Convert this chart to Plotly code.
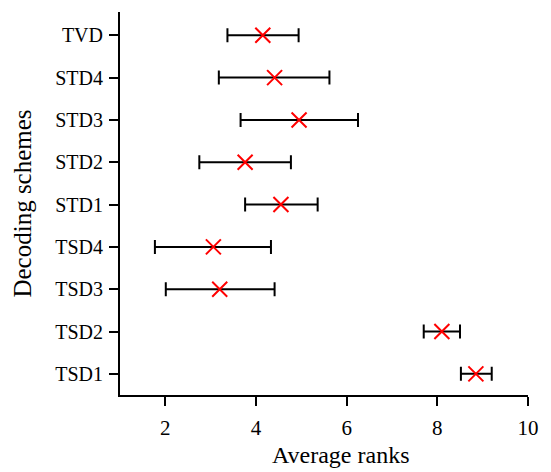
import plotly.graph_objects as go

schemes = ["TSD1", "TSD2", "TSD3", "TSD4", "STD1", "STD2", "STD3", "STD4", "TVD"]
mean_rank = [8.85, 8.10, 3.20, 3.06, 4.55, 3.76, 4.95, 4.41, 4.15]
lower = [8.52, 7.70, 2.01, 1.77, 3.76, 2.75, 3.66, 3.18, 3.37]
upper = [9.20, 8.50, 4.41, 4.33, 5.36, 4.77, 6.25, 5.62, 4.94]

err_plus = [u - m for u, m in zip(upper, mean_rank)]
err_minus = [m - l for l, m in zip(lower, mean_rank)]

fig = go.Figure()
fig.add_trace(go.Scatter(
    x=mean_rank, y=schemes, mode="markers",
    marker=dict(symbol="x-thin", size=15, line=dict(color="red", width=2), color="red"),
    error_x=dict(type="data", symmetric=False, array=err_plus, arrayminus=err_minus,
                 color="black", thickness=2, width=7),
    showlegend=False,
))

font_family = "Liberation Serif"
fig.update_layout(
    width=551, height=472,
    margin=dict(l=120, r=20, t=12, b=77),
    plot_bgcolor="white", paper_bgcolor="white",
    font=dict(family=font_family, color="black", size=20),
    xaxis=dict(
        range=[1, 10], tickvals=[2, 4, 6, 8, 10],
        showgrid=False, zeroline=False,
        showline=True, linecolor="black", linewidth=2,
        ticks="outside", ticklen=9, tickwidth=2, tickcolor="black",
        tickfont=dict(size=21, family=font_family),
        ticklabelstandoff=4,
    ),
    yaxis=dict(
        type="category", categoryorder="array", categoryarray=schemes,
        range=[-0.5, 8.55],
        showgrid=False, zeroline=False,
        showline=True, linecolor="black", linewidth=2,
        ticks="outside", ticklen=9, tickwidth=2, tickcolor="black",
        tickfont=dict(size=20, family=font_family),
        ticklabelstandoff=2,
        title=dict(text="Decoding schemes", font=dict(size=25, family=font_family), standoff=16),
    ),
    annotations=[dict(
        text="Average ranks", xref="paper", yref="paper",
        x=0.54, y=-0.157, xanchor="center", yanchor="middle",
        showarrow=False, font=dict(size=24, family=font_family, color="black"),
    )],
)
fig.write_html("out.html")
